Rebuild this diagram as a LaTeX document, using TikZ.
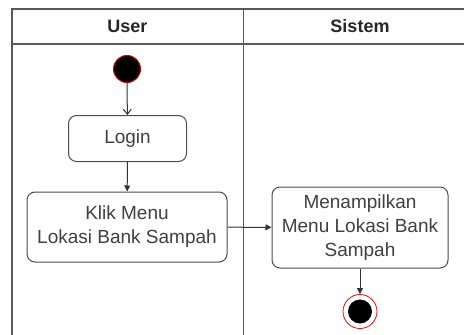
\documentclass[tikz,border=0pt]{standalone}
\usepackage{fontspec}
\setmainfont{Liberation Sans}
\usetikzlibrary{arrows.meta}
\tikzset{
  lane/.style={draw=black!65, line width=1.2pt},
  actbox/.style={draw=black!70, line width=1pt, rounded corners=8pt, fill=white,
    align=center, text=black!75, inner sep=0pt,
    font=\fontsize{19}{24}\selectfont},
  flow/.style={draw=black!80, line width=1pt, -{Triangle[length=6pt,width=6pt]}},
  openflow/.style={draw=black!80, line width=1pt, -{Straight Barb[length=5pt,width=8pt]}},
  hdr/.style={font=\fontsize{18}{20}\selectfont\bfseries, text=black!85},
}
\begin{document}
\begin{tikzpicture}[x=1pt,y=-1pt]
\useasboundingbox (0,0) rectangle (464,335);
% swimlane frame
\draw[lane] (12,335) -- (12,9) -- (464,9);
\draw[lane] (12,44) -- (464,44);
\draw[lane] (243.5,9) -- (243.5,335);
\node[hdr] (hUser) at (127.5,26) {User};
\node[hdr] (hSistem) at (360,26) {Sistem};
% initial state
\node[circle, fill=black, draw=red!80!black, line width=1pt, minimum size=27pt, inner sep=0pt] (start) at (127,69) {};
% activities
\node[actbox, minimum width=118pt, minimum height=46pt] (login) at (127.5,138.5) {Login};
\node[actbox, minimum width=200pt, minimum height=70pt] (klik) at (127,227) {Klik Menu\\Lokasi Bank Sampah};
\node[actbox, minimum width=176pt, minimum height=81pt] (tampil) at (360,227.5) {Menampilkan\\Menu Lokasi Bank\\Sampah};
% final state
\node[circle, fill=white, draw=red, line width=0.8pt, minimum size=34pt, inner sep=0pt] (final) at (360,311.5) {};
\node[circle, fill=black, minimum size=24pt, inner sep=0pt] (finalin) at (final) {};
% transitions
\draw[openflow] (start) -- (login);
\draw[flow] (login) -- (klik);
\draw[flow] (klik) -- (tampil);
\draw[flow] (tampil) -- (final);
\end{tikzpicture}
\end{document}
